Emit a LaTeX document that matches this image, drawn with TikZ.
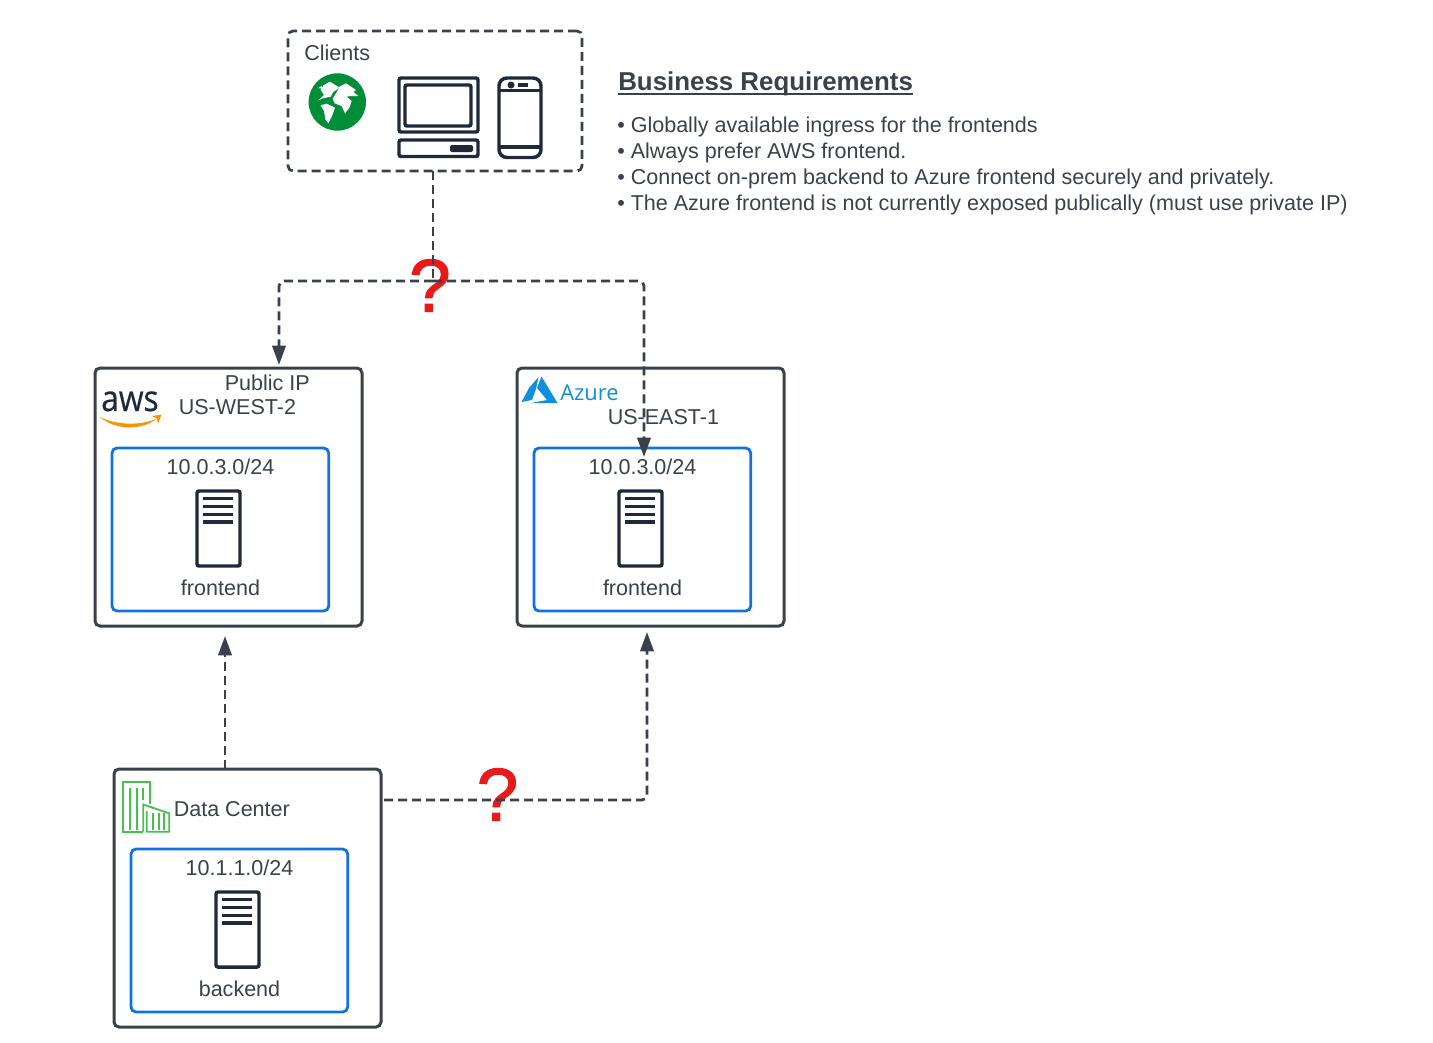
\documentclass[tikz,border=0pt]{standalone}
\usepackage{fontspec}
\usepackage{xcolor}
\usetikzlibrary{arrows.meta}
\setmainfont{Liberation Sans}
\newfontfamily\logofont{Open Sans}
\newfontfamily\awsfont[FakeBold=0.5]{Open Sans}
\newfontfamily\askfont[FakeBold=1.5]{Liberation Sans}
\definecolor{corLine}{HTML}{3A414A}
\definecolor{corSubnet}{HTML}{1071E5}
\definecolor{corIcon}{HTML}{1E2A3A}
\definecolor{corGlobe}{HTML}{008F38}
\definecolor{corBuilding}{HTML}{45C152}
\definecolor{corSmile}{HTML}{F79400}
\definecolor{corAzure}{HTML}{0F8FDC}
\definecolor{corAsk}{HTML}{E81A1A}
\newcommand{\serverIcon}[2]{%
  \draw[icon] (#1,#2) rectangle ++(43,75);
  \foreach \yy in {7.5,15.5,23.5,31} {\draw[icon] (#1+6,#2+\yy) -- ++(30,0);}
}
\tikzset{
  regionbox/.style={draw=corLine, line width=2.25pt, rounded corners=3.75pt, inner sep=0pt, outer sep=0pt, anchor=north west, minimum width=200.25pt, minimum height=193.5pt},
  subnetbox/.style={draw=corSubnet, line width=2.1pt, rounded corners=3.75pt, inner sep=0pt, outer sep=0pt, anchor=north west, minimum width=162.5pt, minimum height=122.25pt},
  label/.style={text=corLine, font=\fontsize{16.15}{19.5}\selectfont, inner sep=0pt},
  askmark/.style={text=corAsk, font=\askfont\fontsize{56}{60}\selectfont, inner sep=0pt, anchor=base},
  link/.style={draw=corLine, line width=2.05pt, dash pattern=on 6.75pt off 3.75pt, rounded corners=3.75pt},
  linkarrow/.style={link, -{Triangle[length=14.5pt,width=10pt]}},
  icon/.style={draw=corIcon, line width=2.6pt, rounded corners=1.5pt},
}
\begin{document}
\begin{tikzpicture}[x=0.75pt,y=-0.75pt]
  \useasboundingbox (0,0) rectangle (1433,1042);

  % clients
  \node[regionbox, dash pattern=on 6.75pt off 3.75pt, line width=2.05pt, minimum width=220.5pt, minimum height=105pt] (clients) at (288,31) {};
  \node[label, anchor=base west] (clientsText) at (304,60) {Clients};
  \fill[corGlobe] (337.3,102) circle (28.7);
  \begin{scope}[shift={(300,66)},x=0.25pt,y=-0.25pt]
    \fill[white] (70,58) -- (90,47) -- (108,58) -- (118,65) -- (100,78) -- (92,92) -- (78,95) -- (66,98) -- (55,103) -- (72,87) -- (62,72) -- cycle;
    \fill[white] (118,62) -- (138,52) -- (150,60) -- (168,72) -- (160,78) -- (175,90) -- (150,90) -- (140,92) -- (155,105) -- (148,125) -- (135,142) -- (125,120) -- (104,112) -- (98,98) -- (108,82) -- cycle;
    \fill[white] (62,118) -- (80,113) -- (105,125) -- (98,145) -- (85,172) -- (76,160) -- (72,135) -- cycle;
    \fill[white] (55,66) -- (66,60) -- (66,68) -- cycle;
  \end{scope}
  \draw[icon] (399,78) rectangle (478,132);
  \draw[icon] (405,85) rectangle (471,126);
  \draw[icon] (399,140) rectangle (478,156.5);
  \fill[corIcon, rounded corners=1.5pt] (450,145) rectangle (473,152);
  \draw[icon, rounded corners=6pt] (499,78) rectangle (541,157.5);
  \draw[icon] (499,90.7) -- (541,90.7);
  \draw[icon] (499,147) -- (541,147);
  \fill[corIcon] (511,85) circle (3.5);
  \fill[corIcon] (518,83) rectangle (528,87);

  % requirements
  \node[label, anchor=base west, font=\fontsize{19.4}{22}\selectfont\bfseries] (reqTitle) at (618,90.5) {Business Requirements};
  \draw[corLine, line width=1.7pt] ([yshift=-2.8pt]reqTitle.base west) -- ([yshift=-2.8pt]reqTitle.base east);
  \node[label, anchor=north west, align=left] (reqList) at (617,116.5) {%
    • Globally available ingress for the frontends\\
    • Always prefer AWS frontend.\\
    • Connect on-prem backend to Azure frontend securely and privately.\\
    • The Azure frontend is not currently exposed publically (must use private IP)};

  % aws
  \node[regionbox] (aws) at (95,368) {};
  \node[label, anchor=base west] (awsIp) at (224.5,390) {Public IP};
  \node[label, anchor=base west] (awsRegion) at (178.5,414) {US-WEST-2};
  \node[anchor=base west, inner sep=0pt, text=corIcon, font=\awsfont\fontsize{27}{27}\selectfont] (awsLogo) at (101,411) {\scalebox{0.88}[1]{aws}};
  \fill[corSmile] (100,417) .. controls (118,426) and (142,425) .. (156,419) .. controls (143,430) and (116,431) .. cycle;
  \fill[corSmile] (152,416) -- (161.5,414.5) -- (158,424) -- (157,418.5) -- cycle;
  \node[subnetbox] (awsNet) at (112,448) {};
  \node[label, anchor=base] (awsCidr) at (220.5,474) {10.0.3.0/24};
  \serverIcon{197}{491}
  \node[label, anchor=base] (awsName) at (220.5,595) {frontend};

  % azure
  \node[regionbox] (azure) at (517,368) {};
  \fill[corAzure] (538.5,377) -- (529,388) -- (521.5,402) -- (532,400) -- (536,389) -- cycle;
  \fill[corAzure] (541.5,376.5) -- (557.5,403) -- (531,403) -- (547,400) -- (537,388) -- cycle;
  \node[anchor=base west, inner sep=0pt, text=corAzure, font=\logofont\fontsize{16.4}{17}\selectfont] (azureLogo) at (560,400) {Azure};
  \node[label, anchor=base west] (azureRegion) at (607.5,424) {US-EAST-1};
  \node[subnetbox] (azureNet) at (534,448) {};
  \node[label, anchor=base] (azureCidr) at (642.5,474) {10.0.3.0/24};
  \serverIcon{619}{491}
  \node[label, anchor=base] (azureName) at (642.5,595) {frontend};

  % data center
  \node[regionbox] (dc) at (114,769) {};
  \draw[corBuilding, line width=1.4pt] (143.3,831.7) -- (123.3,831.7) -- (123.3,782.3) -- (150,782.3) -- (150,804);
  \draw[corBuilding, line width=1.4pt] (143.3,831.7) -- (143.3,804.5) -- (169.3,813.3) -- (169.3,831.7) -- (146.7,831.7) -- (146.7,811);
  \foreach \xx in {130,136.7} {\draw[corBuilding, line width=1.4pt] (\xx,788) -- (\xx,830);}
  \draw[corBuilding, line width=1.4pt] (143.3,788) -- (143.3,800);
  \foreach \xx in {153.3,159,164.3} {\draw[corBuilding, line width=1.4pt] (\xx,813) -- (\xx,830);}
  \node[label, anchor=base west] (dcText) at (173.5,816) {Data Center};
  \node[subnetbox] (dcNet) at (131,849) {};
  \node[label, anchor=base] (dcCidr) at (239.5,875) {10.1.1.0/24};
  \serverIcon{216}{892}
  \node[label, anchor=base] (dcName) at (239.5,996) {backend};

  % question marks
  \node[askmark] (askTop) at (430,311.5) {?};
  \node[askmark] (askBottom) at (497.5,820.5) {?};

  % connectors
  \coordinate (split) at (433,281);
  \coordinate (awsIn) at (279,365);
  \coordinate (azureIn) at (644,457);
  \coordinate (dcOut) at (384,800);
  \coordinate (azureUp) at (647,632);
  \coordinate (awsUp) at (225,636);
  \draw[link] (clients.south -| split) -- (split);
  \draw[linkarrow] (split) -| (awsIn);
  \draw[linkarrow] (split) -| (azureIn);
  \draw[linkarrow] (dc.north -| awsUp) -- (awsUp);
  \draw[linkarrow] (dcOut) -| (azureUp);
\end{tikzpicture}
\end{document}
